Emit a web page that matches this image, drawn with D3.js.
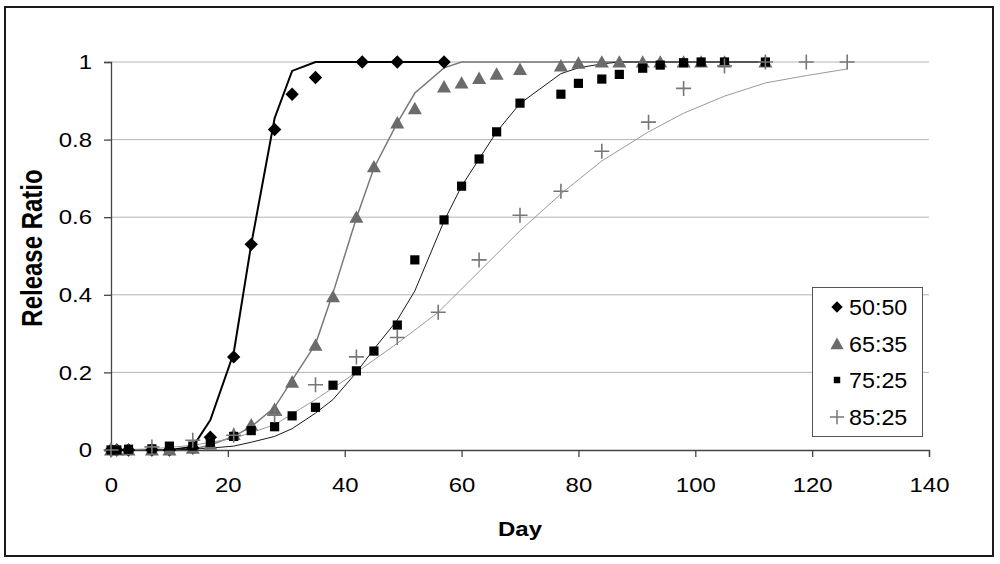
<!DOCTYPE html>
<html>
<head>
<meta charset="utf-8">
<script src="https://cdn.jsdelivr.net/npm/d3@7"></script>
<style>
  body { margin: 0; background: #fff; }
  svg text { font-family: "Liberation Sans", Arial, sans-serif; fill: #000; }
</style>
</head>
<body>
<svg id="chart" width="1000" height="564"></svg>
<script>
// measured points (markers)
const days50 = [0, 1, 3, 7, 10, 14, 17, 21, 24, 28, 31, 35, 43, 49, 57];
const vals50 = [0, 0, 0, 0, 0, 0.005, 0.033, 0.24, 0.53, 0.826, 0.917, 0.96, 1, 1, 1];
const days65 = [0, 1, 3, 7, 10, 14, 17, 21, 24, 28, 31, 35, 38, 42, 45, 49, 52, 57, 60, 63, 66, 70, 77, 80, 84, 87, 91, 94, 98, 101, 105, 112];
const vals65 = [0, 0, 0, 0, 0, 0.005, 0.015, 0.04, 0.065, 0.105, 0.175, 0.27, 0.395, 0.6, 0.73, 0.843, 0.88, 0.936, 0.946, 0.958, 0.969, 0.981, 0.99, 0.997, 1, 1, 1, 1, 1, 1, 1, 1];
const days75 = days65;
const vals75 = [0, 0, 0.002, 0.003, 0.01, 0.01, 0.02, 0.035, 0.05, 0.06, 0.088, 0.11, 0.167, 0.204, 0.255, 0.322, 0.49, 0.593, 0.68, 0.75, 0.82, 0.894, 0.917, 0.945, 0.956, 0.968, 0.984, 0.992, 0.998, 1, 1, 1];
const days85 = [0, 7, 14, 21, 28, 35, 42, 49, 56, 63, 70, 77, 84, 92, 98, 105, 112, 119, 126];
const vals85 = [0, 0.008, 0.025, 0.038, 0.09, 0.168, 0.24, 0.29, 0.355, 0.49, 0.605, 0.667, 0.77, 0.845, 0.932, 0.99, 1, 1, 1];

// fitted curves
const fit50 = [0, 0, 0, 0, 0, 0.008, 0.077, 0.25, 0.53, 0.855, 0.977, 1, 1, 1, 1];
const fit65 = [0, 0, 0, 0, 0, 0.002, 0.013, 0.035, 0.06, 0.11, 0.18, 0.273, 0.405, 0.598, 0.727, 0.843, 0.92, 0.985, 1, 1, 1, 1, 1, 1, 1, 1, 1, 1, 1, 1, 1, 1];
const fit75 = [0, 0, 0, 0, 0, 0.002, 0.005, 0.01, 0.02, 0.035, 0.055, 0.095, 0.13, 0.2, 0.26, 0.335, 0.41, 0.59, 0.68, 0.75, 0.82, 0.893, 0.97, 0.985, 0.995, 1, 1, 1, 1, 1, 1, 1];
const fit85 = [0, 0.003, 0.012, 0.03, 0.065, 0.13, 0.2, 0.275, 0.355, 0.46, 0.565, 0.66, 0.745, 0.82, 0.868, 0.912, 0.946, 0.965, 0.982];

const seriesNames = ["50:50", "65:35", "75:25", "85:25"];
const xTicks = [0, 20, 40, 60, 80, 100, 120, 140];
const yTicks = [0, 0.2, 0.4, 0.6, 0.8, 1];
const yTickLabels = ["0", "0.2", "0.4", "0.6", "0.8", "1"];

const STRETCH = 1.14;

const markerPath = (type) => {
  if (type === "diamond") return "M0,-6.7L6.7,0L0,6.7L-6.7,0Z";
  if (type === "triangle") return "M0,-6.8L7,5.6L-7,5.6Z";
  if (type === "square") return "M-4.6,-4.6H4.6V4.6H-4.6Z";
  return "M-7.5,0H7.5M0,-7.5V7.5";
};

const main = () => {
  const svg = d3.select("#chart");
  const x = d3.scaleLinear().domain([0, 140]).range([111, 929]);
  const y = d3.scaleLinear().domain([0, 1]).range([450, 62]);

  // outer frame
  svg.append("rect")
    .attr("x", 5).attr("y", 7).attr("width", 988).attr("height", 549)
    .attr("fill", "#fff").attr("stroke", "#1a1a1a").attr("stroke-width", 2);

  // gridlines
  svg.append("g")
    .selectAll("line")
    .data(yTicks.filter((d) => d > 0))
    .enter()
    .append("line")
    .attr("x1", x(0)).attr("x2", x(140))
    .attr("y1", (d) => y(d)).attr("y2", (d) => y(d))
    .attr("stroke", "#b4b4b4").attr("stroke-width", 1);

  // axes
  const xAxis = d3.axisBottom(x).tickValues(xTicks).tickSize(7).tickPadding(20);
  const gx = svg.append("g").attr("transform", `translate(0,${y(0)})`).call(xAxis);
  const yAxis = d3.axisLeft(y).tickValues(yTicks).tickSize(7).tickPadding(12)
    .tickFormat((d, i) => yTickLabels[i]);
  const gy = svg.append("g").attr("transform", `translate(${x(0)},0)`).call(yAxis);

  [gx, gy].forEach((g) => {
    g.select(".domain").attr("stroke", "#444").attr("stroke-width", 1.3);
    g.selectAll(".tick line").attr("stroke", "#444").attr("stroke-width", 1.3);
    g.selectAll("text")
      .attr("font-family", "Liberation Sans, Arial, sans-serif")
      .attr("font-size", 21).attr("fill", "#000");
  });
  gx.selectAll(".tick text").attr("transform", `scale(${STRETCH},1)`);
  gy.selectAll(".tick text")
    .attr("x", -19 / STRETCH)
    .attr("transform", `scale(${STRETCH},1)`);

  // axis titles
  svg.append("text")
    .attr("transform", `translate(42,248) scale(1.25,1) rotate(-90)`)
    .attr("text-anchor", "middle")
    .attr("font-size", 24).attr("font-weight", "bold")
    .text("Release Ratio");
  svg.append("text")
    .attr("transform", `translate(520,536) scale(1.2,1)`)
    .attr("text-anchor", "middle")
    .attr("font-size", 20).attr("font-weight", "bold")
    .text("Day");

  // fitted curves
  const line = d3.line().x((d) => x(d[0])).y((d) => y(d[1]));
  const fits = [
    { days: days50, vals: fit50, color: "#000", width: 2 },
    { days: days65, vals: fit65, color: "#7a7a7a", width: 1.5 },
    { days: days75, vals: fit75, color: "#1a1a1a", width: 1 },
    { days: days85, vals: fit85, color: "#9a9a9a", width: 1 },
  ];
  const gLines = svg.append("g");
  fits.forEach(({ days, vals, color, width }) => {
    gLines.append("path")
      .attr("d", line(days.map((d, i) => [d, vals[i]])))
      .attr("fill", "none").attr("stroke", color).attr("stroke-width", width);
  });

  // markers
  const marks = [
    { days: days50, vals: vals50, type: "diamond", color: "#000" },
    { days: days65, vals: vals65, type: "triangle", color: "#6b6b6b" },
    { days: days75, vals: vals75, type: "square", color: "#000" },
    { days: days85, vals: vals85, type: "plus", color: "#777" },
  ];
  const gMarks = svg.append("g");
  marks.forEach(({ days, vals, type, color }) => {
    gMarks.append("g")
      .selectAll("path")
      .data(days.map((d, i) => [d, vals[i]]))
      .enter()
      .append("path")
      .attr("transform", (d) => `translate(${x(d[0])},${y(d[1])})`)
      .attr("d", markerPath(type))
      .attr("fill", type === "plus" ? "none" : color)
      .attr("stroke", type === "plus" ? color : "none")
      .attr("stroke-width", 1.6);
  });

  // legend
  const legend = svg.append("g");
  legend.append("rect")
    .attr("x", 812.5).attr("y", 287.5).attr("width", 110).attr("height", 149)
    .attr("fill", "#fff").attr("stroke", "#555").attr("stroke-width", 1);
  const rowsY = [307, 344, 380, 417];
  const legendScale = [0.85, 0.95, 0.7, 0.95];
  seriesNames.forEach((name, i) => {
    const m = marks[i];
    legend.append("path")
      .attr("transform", `translate(837,${rowsY[i]}) scale(${legendScale[i]})`)
      .attr("d", markerPath(m.type))
      .attr("fill", m.type === "plus" ? "none" : m.color)
      .attr("stroke", m.type === "plus" ? m.color : "none")
      .attr("stroke-width", 1.6);
    legend.append("text")
      .attr("transform", `translate(849,${rowsY[i] + 8}) scale(1.06,1)`)
      .attr("font-size", 22)
      .text(name);
  });
};

main();
</script>
</body>
</html>
